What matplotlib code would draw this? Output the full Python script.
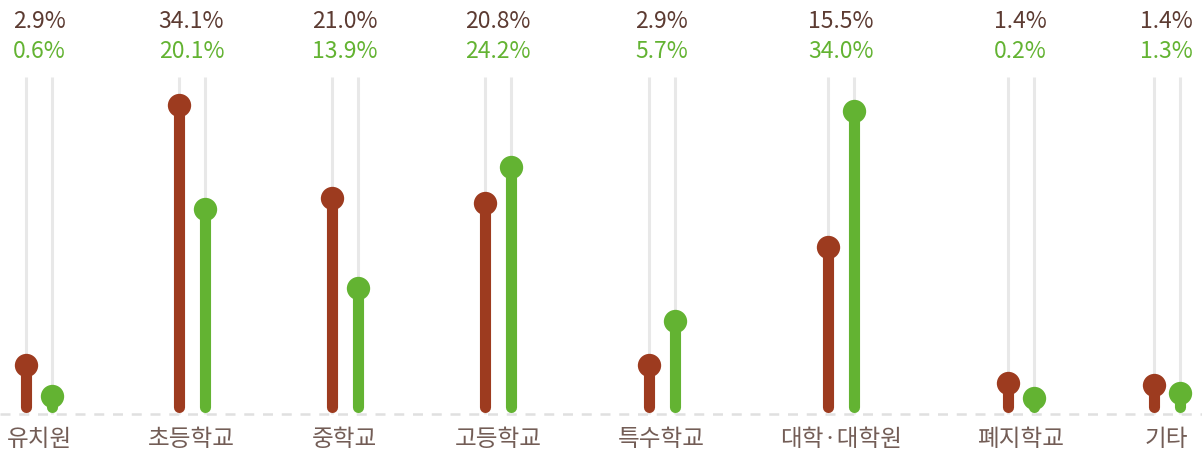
import matplotlib
matplotlib.use("Agg")
import matplotlib.pyplot as plt

plt.rcParams['font.family'] = ['Noto Sans CJK KR', 'DejaVu Sans']

# ---- data ----
categories = ["유치원", "초등학교", "중학교", "고등학교", "특수학교", "대학·대학원", "폐지학교", "기타"]
label_a = ["2.9%", "34.1%", "21.0%", "20.8%", "2.9%", "15.5%", "1.4%", "1.4%"]
label_b = ["0.6%", "20.1%", "13.9%", "24.2%", "5.7%", "34.0%", "0.2%", "1.3%"]
# plotted lollipop levels
level_a = [4.1, 30.1, 20.8, 20.3, 4.1, 15.9, 2.3, 2.1]
level_b = [1.0, 19.7, 11.8, 23.9, 8.5, 29.5, 0.8, 1.3]

# ---- layout ----
centers = [39, 191.5, 344.5, 498, 661.5, 841, 1020.5, 1166.5]
offset = 13
col_a = "#9d3b1f"
col_b = "#63b332"
txt_a = "#5c3b32"
txt_cat = "#735d56"
grey = "#e8e8e8"

W, H = 1202, 455
fig = plt.figure(figsize=(W / 100, H / 100), dpi=100)
ax = fig.add_axes([0, 0, 1, 1])
ax.set_xlim(0, W)
# 1 unit = 10 px, zero level at pixel row 406
ax.set_ylim((406 - H) / 10, 406 / 10)
ax.axis("off")

grid_top = (406 - 77) / 10
base = (406 - 414) / 10

ax.axhline(base, color="#e0e0e0", lw=1.8, dashes=(4, 3.5), zorder=0)

for i, c in enumerate(centers):
    xa, xb = c - offset, c + offset
    for x in (xa, xb):
        ax.plot([x, x], [base, grid_top], color=grey, lw=2.2, zorder=1,
                solid_capstyle="butt")
    for x, v, col in ((xa, level_a[i], col_a), (xb, level_b[i], col_b)):
        ax.plot([x, x], [-0.05, v], color=col, lw=8.0, solid_capstyle="round", zorder=2)
        ax.plot([x], [v], "o", color=col, markersize=16.8, markeredgewidth=0, zorder=3)
    ax.text(c, (406 - 22) / 10, label_a[i], color=txt_a, fontsize=16.5,
            ha="center", va="center")
    ax.text(c, (406 - 51) / 10, label_b[i], color=col_b, fontsize=16.5,
            ha="center", va="center")
    ax.text(c, (406 - 440) / 10, categories[i], color=txt_cat, fontsize=17,
            ha="center", va="center")

fig.savefig("out.png", dpi=100)
